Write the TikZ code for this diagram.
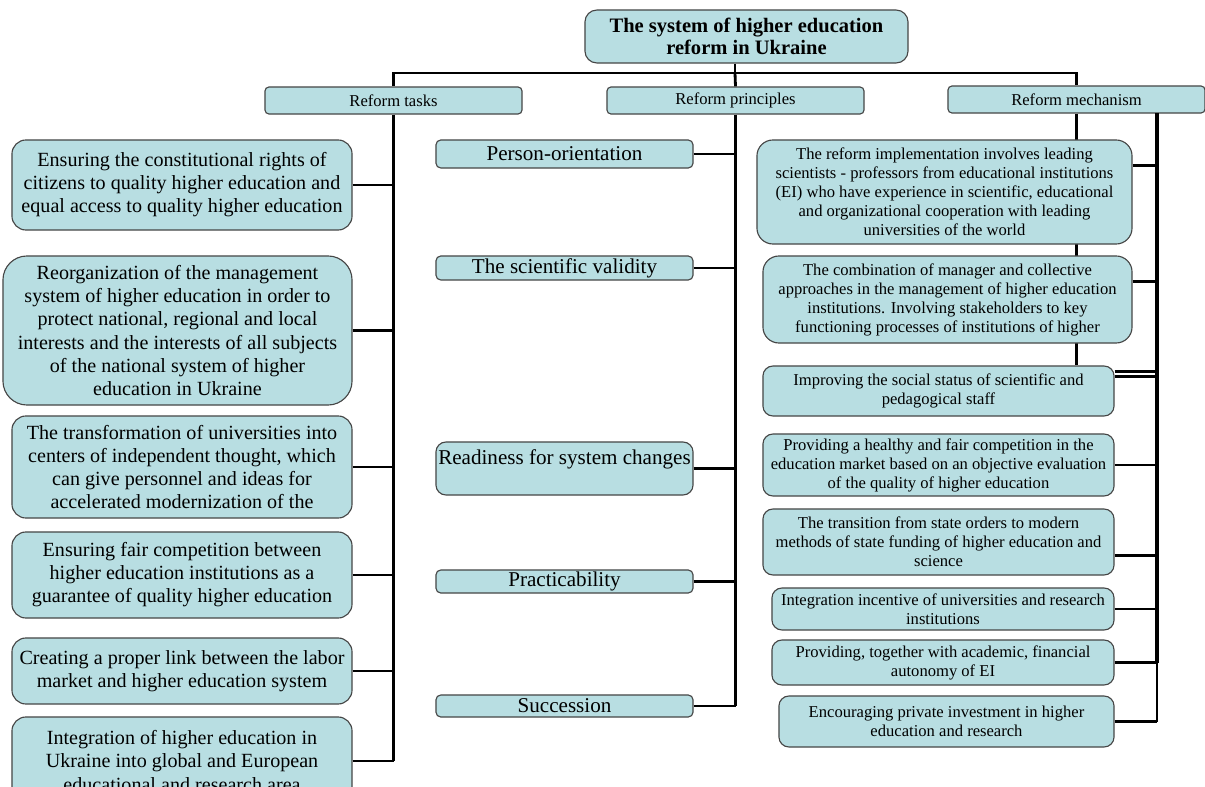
\documentclass[tikz,border=0pt]{standalone}
\usepackage{fontspec}
\setmainfont{Liberation Serif}
\usepackage{xcolor}
\usepackage{tikz}
\usetikzlibrary{positioning,backgrounds}
\definecolor{refteal}{RGB}{184,222,226}
\definecolor{refedge}{RGB}{70,70,70}

\begin{document}
\begin{tikzpicture}[
  x=0.025cm, y=-0.025cm,
  base/.style={draw=refedge, line width=0.8pt, fill=refteal, align=center,
    inner sep=1pt},
  titlebox/.style={base, rounded corners=0.3cm, font=\fontsize{14.6}{15.6}\selectfont\bfseries},
  head/.style={base, rounded corners=0.1cm, font=\fontsize{11.8}{12}\selectfont,
    minimum width=6.425cm, minimum height=0.675cm},
  task/.style={base, rounded corners=0.35cm, font=\fontsize{14.3}{16.4}\selectfont,
    minimum width=8.5cm},
  princ/.style={base, rounded corners=0.12cm, font=\fontsize{15}{16}\selectfont,
    minimum width=6.425cm},
  mech/.style={base, rounded corners=0.25cm, font=\fontsize{11.8}{13.5}\selectfont},
  link/.style={line width=2pt},
  bus/.style={line width=3.5pt}
]
  \useasboundingbox (0,0) rectangle (1205,787);

  % --- Top: title and the three headers ---
  \node[titlebox, minimum width=8.075cm, minimum height=1.325cm] (title) at (746.5,36.5)
    {The system of higher education\\reform in Ukraine};
  \node[head] (tasks)      at (393.5,100.5)  {Reform tasks};
  \node[head] (principles) at (735.5,100.5)  {Reform principles};
  \node[head] (mechanism)  at (1076.5,99.5)  {Reform mechanism};
  \coordinate (hub)  at (735,73);
  \coordinate (rtop) at (1157,113);

  % --- Left column: reform tasks ---
  \node[task, minimum height=2.25cm]  (t1) at (182,185)
    {Ensuring the constitutional rights of\\citizens to quality higher education and\\equal access to quality higher education};
  \node[task, minimum width=8.725cm, minimum height=3.725cm, rounded corners=0.6cm] (t2) at (177.5,330.5)
    {Reorganization of the management\\system of higher education in order to\\protect national, regional and local\\interests and the interests of all subjects\\of the national system of higher\\education in Ukraine};
  \node[task, minimum height=2.55cm]  (t3) at (182,467)
    {The transformation of universities into\\centers of independent thought, which\\can give personnel and ideas for\\accelerated modernization of the};
  \node[task, minimum height=2.15cm]  (t4) at (182,575)
    {Ensuring fair competition between\\higher education institutions as a\\guarantee of quality higher education};
  \node[task, minimum height=1.65cm]  (t5) at (182,671)
    {Creating a proper link between the labor\\market and higher education system};
  \node[task, minimum height=2.2cm]   (t6) at (182,761)
    {Integration of higher education in\\Ukraine into global and European\\educational and research area};

  % --- Middle column: reform principles ---
  \node[princ, minimum height=0.7cm]   (p1) at (564.5,154)   {Person-orientation};
  \node[princ, minimum height=0.6cm]   (p2) at (564.5,268)   {The scientific validity};
  \node[princ, minimum height=1.325cm, rounded corners=0.25cm] (p3) at (564.5,468.5)
    {Readiness for system changes\\\mbox{}};
  \node[princ, minimum height=0.575cm] (p4) at (564.5,581.5) {Practicability};
  \node[princ, minimum height=0.55cm]  (p5) at (564.5,706)   {Succession};

  % --- Right column: reform mechanism ---
  \node[mech, minimum width=9.375cm, minimum height=2.6cm, rounded corners=0.4cm] (m1) at (944.5,192)
    {The reform implementation involves leading\\scientists - professors from educational institutions\\(EI) who have experience in scientific, educational\\and organizational cooperation with leading\\universities of the world};
  \node[mech, minimum width=9.225cm, minimum height=2.175cm, rounded corners=0.4cm] (m2) at (947.5,299.5)
    {The combination of manager and collective\\approaches in the management of higher education\\institutions. Involving stakeholders to key\\functioning processes of institutions of higher};
  \node[mech, minimum width=8.775cm, minimum height=1.25cm]  (m3) at (938.5,391)
    {Improving the social status of scientific and\\pedagogical staff};
  \node[mech, minimum width=8.775cm, minimum height=1.55cm]  (m4) at (938.5,465)
    {Providing a healthy and fair competition in the\\education market based on an objective evaluation\\of the quality of higher education};
  \node[mech, minimum width=8.775cm, minimum height=1.65cm]  (m5) at (938.5,542)
    {The transition from state orders to modern\\methods of state funding of higher education and\\science};
  \node[mech, minimum width=8.55cm, minimum height=1.05cm]   (m6) at (943,609)
    {Integration incentive of universities and research\\institutions};
  \node[mech, minimum width=8.55cm, minimum height=1.125cm]  (m7) at (943,662.5)
    {Providing, together with academic, financial\\autonomy of EI};
  \node[mech, minimum width=8.375cm, minimum height=1.275cm] (m8) at (946.5,721.5)
    {Encouraging private investment in higher\\education and research};

  % --- Connectors: title to headers ---
  \draw[link] (title.south -| hub) -- (hub);
  \draw[link] (tasks.north) |- (hub) -| (mechanism.north);
  \draw[link] (hub) -- (principles.north);

  % --- Connectors: tasks ---
  \draw[link] (tasks.south) -- (tasks.south |- t6.east);
  \foreach \t in {t1,t2,t3,t4,t5,t6}
    \draw[link] (\t.east) -- (\t.east -| tasks.south);

  % --- Connectors: principles ---
  \draw[link] (principles.south) -- (principles.south |- p5.east);
  \foreach \p in {p1,p2,p3,p4,p5}
    \draw[link] (\p.east) -- (\p.east -| principles.south);

  % --- Connectors: mechanism (thin spine behind boxes, thick bus right) ---
  \begin{scope}[on background layer]
    \draw[link] (mechanism.south) -- (mechanism.south |- m3.north);
  \end{scope}
  \draw[bus]  (rtop) -- (rtop |- m7.east);
  \draw[link] ([yshift=-0.15cm]rtop |- m3.north) -- (rtop |- m8.east);
  \draw[link] ([yshift=-0.65cm]m1.north east) -- ([yshift=-0.65cm]rtop |- m1.north);
  \draw[link] ([yshift=-0.65cm]m2.north east) -- ([yshift=-0.65cm]rtop |- m2.north);
  \draw[link] ([yshift=-0.15cm]m3.north east) -- ([yshift=-0.15cm]rtop |- m3.north);
  \draw[link] ([yshift=-0.28cm]m3.north east) -- ([yshift=-0.28cm]rtop |- m3.north);
  \foreach \m in {m4,m6,m7,m8}
    \draw[link] (\m.east) -- (\m.east -| rtop);
  \draw[link] ([yshift=0.5cm]m5.south east) -- ([yshift=0.5cm]rtop |- m5.south);
\end{tikzpicture}
\end{document}
